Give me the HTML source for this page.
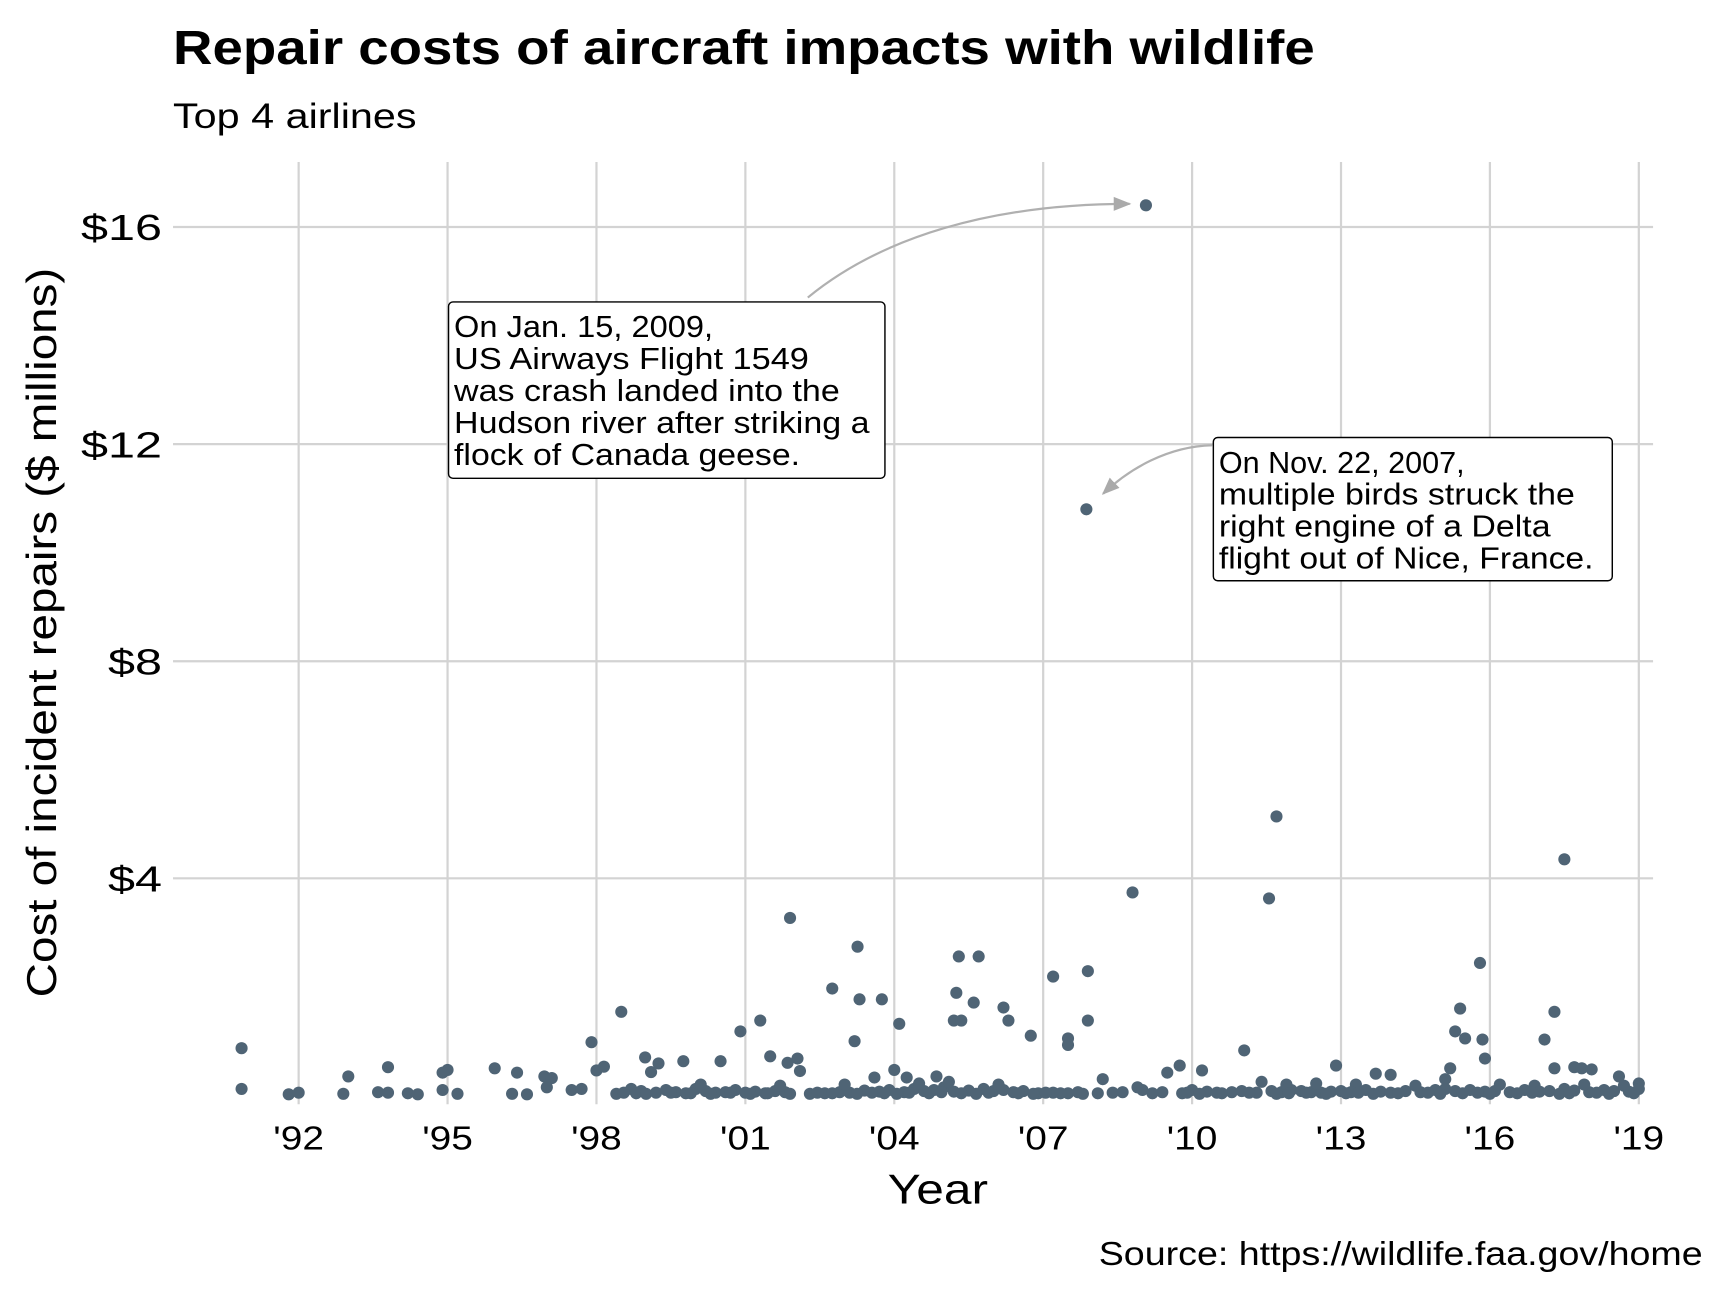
<!DOCTYPE html>
<html><head><meta charset="utf-8"><style>
html,body{margin:0;padding:0;background:#fff}
svg{display:block}
text{font-family:"Liberation Sans",Arial,sans-serif;fill:#000}
</style></head><body>
<svg id="chart" width="1728" height="1296" viewBox="0 0 1568 1176" xmlns="http://www.w3.org/2000/svg">
<text x="157" y="58" font-size="44" font-weight="bold" textLength="1036" lengthAdjust="spacingAndGlyphs">Repair costs of aircraft impacts with wildlife</text>
<text x="157" y="116" font-size="32" textLength="221" lengthAdjust="spacingAndGlyphs">Top 4 airlines</text>
<g id="grid"></g>
<g id="points"></g>
<g id="axes"></g>
<text transform="translate(51,574) rotate(-90)" text-anchor="middle" font-size="38" textLength="662" lengthAdjust="spacingAndGlyphs">Cost of incident repairs ($ millions)</text>
<text x="851" y="1092" text-anchor="middle" font-size="38" textLength="91" lengthAdjust="spacingAndGlyphs">Year</text>
<text x="1545" y="1148" text-anchor="end" font-size="30" textLength="548" lengthAdjust="spacingAndGlyphs">Source: https://wildlife.faa.gov/home</text>
<defs><marker id="ah" viewBox="0 0 10 10" refX="9" refY="5" markerWidth="8" markerHeight="8" orient="auto"><path d="M0,1 L10,5 L0,9 z" fill="#aaa"/></marker></defs>
<path d="M733,270 C800,215 900,185 1025,185" fill="none" stroke="#b0b0b0" stroke-width="2" marker-end="url(#ah)"/>
<path d="M1100,404 C1060,405 1025,425 1001,448" fill="none" stroke="#b0b0b0" stroke-width="2" marker-end="url(#ah)"/>
<g>
<rect x="407" y="274" width="396" height="160" rx="4" fill="#fff" stroke="#000" stroke-width="1.3"/>
<text x="412" y="306" font-size="28" textLength="235" lengthAdjust="spacingAndGlyphs">On Jan. 15, 2009,</text>
<text x="412" y="335" font-size="28" textLength="322" lengthAdjust="spacingAndGlyphs">US Airways Flight 1549</text>
<text x="412" y="364" font-size="28" textLength="350" lengthAdjust="spacingAndGlyphs">was crash landed into the</text>
<text x="412" y="393" font-size="28" textLength="377" lengthAdjust="spacingAndGlyphs">Hudson river after striking a</text>
<text x="412" y="422" font-size="28" textLength="314" lengthAdjust="spacingAndGlyphs">flock of Canada geese.</text>
</g>
<g>
<rect x="1101" y="397" width="362" height="130" rx="4" fill="#fff" stroke="#000" stroke-width="1.3"/>
<text x="1106" y="429" font-size="28" textLength="223" lengthAdjust="spacingAndGlyphs">On Nov. 22, 2007,</text>
<text x="1106" y="458" font-size="28" textLength="323" lengthAdjust="spacingAndGlyphs">multiple birds struck the</text>
<text x="1106" y="487" font-size="28" textLength="301" lengthAdjust="spacingAndGlyphs">right engine of a Delta</text>
<text x="1106" y="516" font-size="28" textLength="340" lengthAdjust="spacingAndGlyphs">flight out of Nice, France.</text>
</g>
<script>
const xTickYears = [1992,1995,1998,2001,2004,2007,2010,2013,2016,2019];
const xTickLabels = ["'92","'95","'98","'01","'04","'07","'10","'13","'16","'19"];
const yTickValues = [4,8,12,16];
const yTickLabels = ["$4","$8","$12","$16"];
const years = [2009.07,2007.87,2011.7,2017.5,2008.8,2011.55,2001.9,2003.26,2015.8,2005.3,2005.7,2007.9,2007.2,2002.75,2005.25,1998.5,2003.3,2003.75,2005.6,2006.2,2015.4,2017.3,1997.9,2001.3,2005.2,2005.35,2006.3,2007.9,2004.1,2000.9,2015.3,2015.5,2015.85,2017.1,2006.75,2003.2,2007.5,2007.5,1990.85,2011.05,1998.98,1999.25,1999.75,2000.5,2001.5,2001.85,2002.05,2015.9,2009.75,2010.2,2012.9,2017.3,2017.7,2017.85,2018.05,2009.5,1993.8,1995.0,1994.9,1995.95,1996.4,1993.0,1996.95,1997.1,1998.0,1998.15,1999.1,2002.1,2004.0,2004.25,2003.6,2004.85,2013.7,2014.0,2015.2,2018.6,2015.1,2008.2,2011.4,2013.3,2016.9,2019.0,
1990.85,1991.8,1992.0,1992.9,1993.6,1993.8,1994.2,1994.4,1994.9,1995.2,1996.3,1996.6,1997.0,1997.5,1997.7,1998.4,1998.7,1998.9,1999.2,1999.4,1999.6,1999.8,2000.0,2000.2,2000.4,2000.6,2000.8,2001.0,2001.2,2001.4,2001.6,2001.8,2002.3,2002.6,2002.9,2003.1,2003.4,2003.7,2003.9,2004.2,2004.4,2004.6,2004.8,2005.0,2005.2,2005.5,2005.8,2006.0,2006.2,2006.4,2006.6,2006.9,2007.2,2007.5,2007.7,2008.1,2008.4,2008.6,2009.0,2009.4,2009.8,2010.0,2010.3,2010.5,2010.8,2011.0,2011.3,2011.6,2011.8,2012.0,2012.2,2012.4,2012.6,2012.8,2013.0,2013.2,2013.5,2013.8,2014.0,2014.3,2014.6,2014.9,2015.1,2015.3,2015.6,2015.9,2016.1,2016.4,2016.7,2017.0,2017.2,2017.5,2017.7,2018.0,2018.3,2018.5,2018.8,2019.0,
2000.1,2001.7,2003.0,2004.5,2005.1,2006.1,2008.9,2011.9,2012.5,2014.5,2016.2,2017.9,2018.7,
1998.55,1998.8,1999.0,1999.5,1999.9,2000.3,2000.7,2001.1,2001.45,2001.9,2002.45,2002.75,2003.25,2003.55,2003.8,2004.05,2004.3,2004.7,2004.95,2005.35,2005.65,2005.9,2006.5,2006.8,2007.05,2007.35,2007.8,2009.2,2009.9,2010.15,2010.6,2011.15,2011.7,2011.95,2012.3,2012.7,2013.1,2013.35,2013.65,2014.15,2014.75,2015.0,2015.45,2015.75,2016.0,2016.55,2016.85,2017.4,2017.6,2018.15,2018.4,2018.9];
const costs = [16.4,10.8,5.14,4.35,3.74,3.63,3.27,2.74,2.44,2.56,2.56,2.29,2.19,1.97,1.89,1.54,1.77,1.77,1.71,1.62,1.6,1.54,0.98,1.38,1.38,1.38,1.38,1.38,1.32,1.18,1.18,1.05,1.03,1.03,1.1,1.0,1.05,0.93,0.87,0.83,0.7,0.59,0.63,0.63,0.72,0.6,0.68,0.68,0.55,0.46,0.55,0.5,0.52,0.5,0.48,0.42,0.52,0.47,0.42,0.5,0.42,0.35,0.35,0.32,0.46,0.53,0.43,0.45,0.47,0.33,0.33,0.35,0.4,0.38,0.5,0.35,0.3,0.3,0.25,0.2,0.18,0.22,
0.12,0.02,0.05,0.03,0.06,0.05,0.04,0.02,0.1,0.03,0.03,0.02,0.15,0.1,0.12,0.03,0.12,0.08,0.05,0.1,0.06,0.04,0.12,0.08,0.05,0.06,0.1,0.05,0.07,0.04,0.08,0.06,0.03,0.04,0.06,0.05,0.09,0.07,0.1,0.06,0.12,0.08,0.1,0.15,0.07,0.09,0.12,0.08,0.1,0.06,0.08,0.04,0.05,0.04,0.06,0.04,0.05,0.06,0.1,0.06,0.04,0.1,0.07,0.05,0.06,0.08,0.05,0.08,0.06,0.1,0.08,0.06,0.05,0.07,0.08,0.06,0.1,0.07,0.05,0.08,0.06,0.1,0.12,0.08,0.1,0.07,0.08,0.06,0.1,0.07,0.08,0.12,0.09,0.06,0.1,0.08,0.07,0.12,
0.2,0.18,0.2,0.22,0.25,0.2,0.15,0.2,0.22,0.18,0.2,0.2,0.18,
0.05,0.04,0.03,0.05,0.04,0.03,0.05,0.03,0.04,0.03,0.05,0.04,0.03,0.05,0.04,0.03,0.05,0.04,0.06,0.04,0.03,0.05,0.04,0.03,0.05,0.04,0.03,0.04,0.05,0.03,0.04,0.05,0.03,0.04,0.05,0.03,0.04,0.05,0.03,0.04,0.05,0.03,0.04,0.05,0.03,0.04,0.05,0.03,0.04,0.05,0.03,0.04];

const NS = "http://www.w3.org/2000/svg";
const X0 = 271, XPX = 45.04;
const Y0 = 994, YPX = 49.25;
function xScale(yr){ return X0 + (yr - 1992) * XPX; }
function yScale(v){ return Y0 - v * YPX; }
function mk(tag, attrs){ const e = document.createElementNS(NS, tag); for (const k in attrs) e.setAttribute(k, attrs[k]); return e; }

const grid = document.getElementById('grid');
const axes = document.getElementById('axes');
yTickValues.forEach((v, i) => {
  const l = mk('line', {x1:157, x2:1500, y1:yScale(v), y2:yScale(v), stroke:'#d3d3d3', 'stroke-width':2});
  
  
  grid.appendChild(l);
  const t = mk('text', {x:147, y:yScale(v) + 12, 'text-anchor':'end', 'font-size':33, textLength:(yTickLabels[i].length * 24.5), lengthAdjust:'spacingAndGlyphs'});
  t.textContent = yTickLabels[i];
  
  
  axes.appendChild(t);
});
xTickYears.forEach((yr, i) => {
  const l = mk('line', {x1:xScale(yr), x2:xScale(yr), y1:147, y2:1002, stroke:'#d3d3d3', 'stroke-width':2});
  
  
  grid.appendChild(l);
  const t = mk('text', {x:xScale(yr), y:1043, 'text-anchor':'middle', 'font-size':30, textLength:46, lengthAdjust:'spacingAndGlyphs'});
  t.textContent = xTickLabels[i];
  
  
  axes.appendChild(t);
});
const pts = document.getElementById('points');
years.forEach((yr, i) => {
  const c = mk('circle', {cx:xScale(yr), cy:yScale(costs[i]), r:5.5, fill:'#4f6475'});
  
  
  pts.appendChild(c);
});
</script>
</svg>
</body></html>
